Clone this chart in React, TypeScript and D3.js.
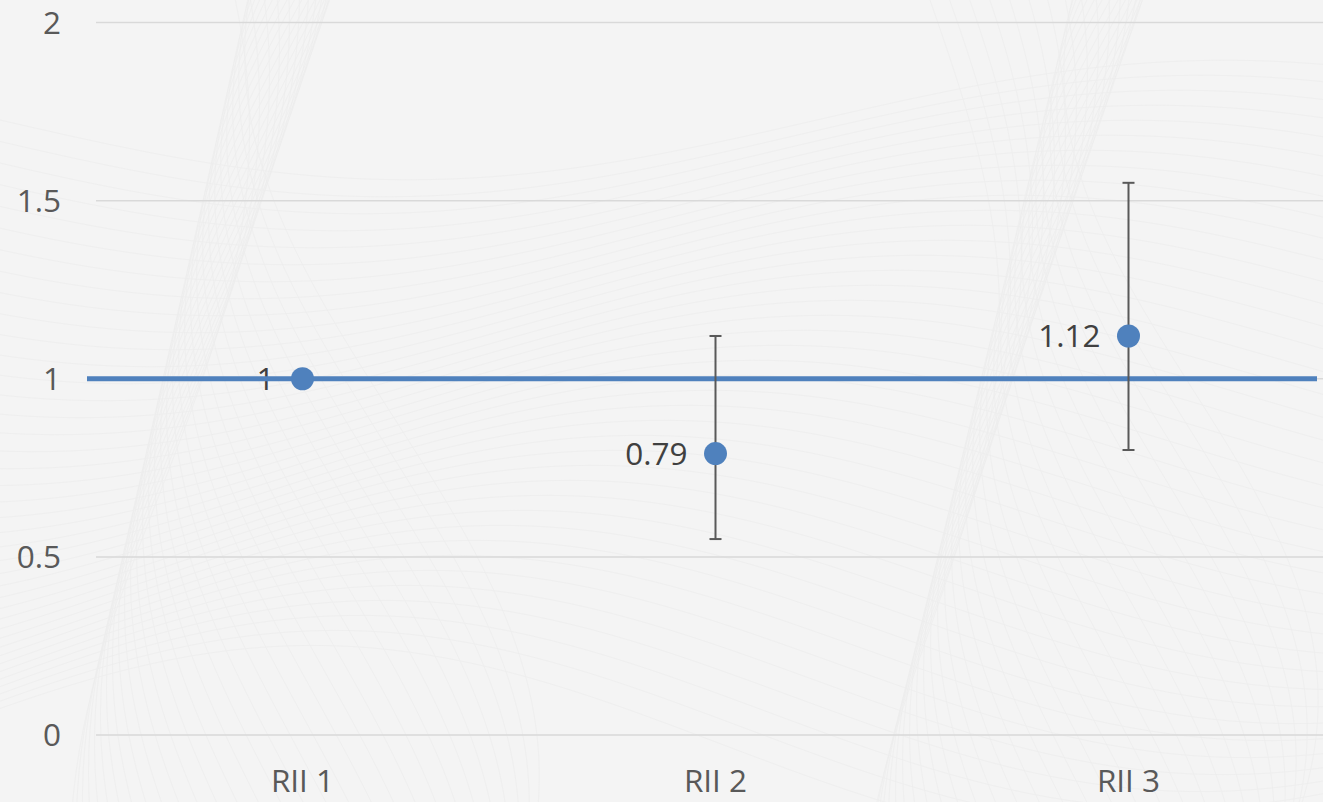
import React from 'react';
import * as d3 from 'd3';

// chart data
const categories = ['RII 1', 'RII 2', 'RII 3'];
const values = [1, 0.79, 1.12];
const errLow = [null, 0.55, 0.8];
const errHigh = [null, 1.12, 1.55];
const labels = ['1', '0.79', '1.12'];
const yTicks = [0, 0.5, 1, 1.5, 2];
const refValue = 1;

const W = 1323, H = 802;
const blue = '#4f81bd';
const font = '"Open Sans", "Liberation Sans", sans-serif';

// faint guilloche-like background strokes (decoration only)
function backgroundPaths() {
    const paths = [];
    const line = d3.line().curve(d3.curveBasis);
    for (let i = 0; i < 40; i++) {
        const pts = [];
        for (let x = -50; x <= W + 50; x += 40) {
            pts.push([x, 120 + i * 16 + Math.sin(x / 260 + i * 0.09) * (60 + i)]);
        }
        paths.push(line(pts));
    }
    for (let i = 0; i < 30; i++) {
        const pts = [];
        for (let y = -50; y <= H + 50; y += 40) {
            pts.push([930 + i * 9 + Math.sin(y / 200 + i * 0.15) * (70 + i * 2), y]);
        }
        paths.push(line(pts));
    }
    for (let i = 0; i < 30; i++) {
        const pts = [];
        for (let y = -50; y <= H + 50; y += 40) {
            pts.push([160 + i * 8 + Math.sin(y / 230 + 1 + i * 0.12) * (90 + i * 2), y]);
        }
        paths.push(line(pts));
    }
    return paths;
}

export default function App() {
    const x = d3.scaleBand().domain(categories).range([96, 1335]);
    const y = d3.scaleLinear().domain([0, 2]).range([735, 22.5]);
    const cx = d => x(d) + x.bandwidth() / 2;
    const bg = React.useMemo(backgroundPaths, []);
    const [x0] = x.range();

    return (
        <div style={{ position: 'absolute', left: 0, top: 0, width: W, height: H, overflow: 'hidden' }}>
            <svg width={W} height={H} style={{ display: 'block', fontFamily: font }}>
                <rect width={W} height={H} fill="#f4f4f4" />
                <g fill="none" stroke="#e8e8e8" strokeWidth={0.8} opacity={0.55}>
                    {bg.map((d, i) => <path key={i} d={d} />)}
                </g>
                {/* gridlines */}
                <g>
                    {yTicks.map(t => (
                        <line key={t} x1={x0} x2={W} y1={y(t)} y2={y(t)} stroke="#d9d9d9" strokeWidth={1.5} />
                    ))}
                </g>
                {/* y tick labels */}
                <g fill="#595959" fontSize={31.5} textAnchor="end">
                    {yTicks.map(t => (
                        <text key={t} x={x0 - 35} y={y(t)} dy="0.35em">{t}</text>
                    ))}
                </g>
                {/* x labels */}
                <g fill="#595959" fontSize={31.5} textAnchor="middle">
                    {categories.map(c => (
                        <text key={c} x={cx(c)} y={792}>{c}</text>
                    ))}
                </g>
                {/* data labels */}
                <g fill="#404040" fontSize={31.5} textAnchor="end">
                    {categories.map((c, i) => (
                        <text key={c} x={cx(c) - 28} y={y(values[i])} dy="0.35em">{labels[i]}</text>
                    ))}
                </g>
                {/* reference line */}
                <line x1={x0 - 9} x2={W - 6} y1={y(refValue)} y2={y(refValue)} stroke={blue} strokeWidth={5} />
                {/* error bars */}
                <g stroke="#595959" strokeWidth={2}>
                    {categories.map((c, i) => errLow[i] == null ? null : (
                        <g key={c}>
                            <line x1={cx(c)} x2={cx(c)} y1={y(errLow[i])} y2={y(errHigh[i])} />
                            <line x1={cx(c) - 6} x2={cx(c) + 6} y1={y(errLow[i])} y2={y(errLow[i])} />
                            <line x1={cx(c) - 6} x2={cx(c) + 6} y1={y(errHigh[i])} y2={y(errHigh[i])} />
                        </g>
                    ))}
                </g>
                {/* markers */}
                <g fill={blue}>
                    {categories.map((c, i) => (
                        <circle key={c} cx={cx(c)} cy={y(values[i])} r={11.5} />
                    ))}
                </g>
            </svg>
        </div>
    );
}
